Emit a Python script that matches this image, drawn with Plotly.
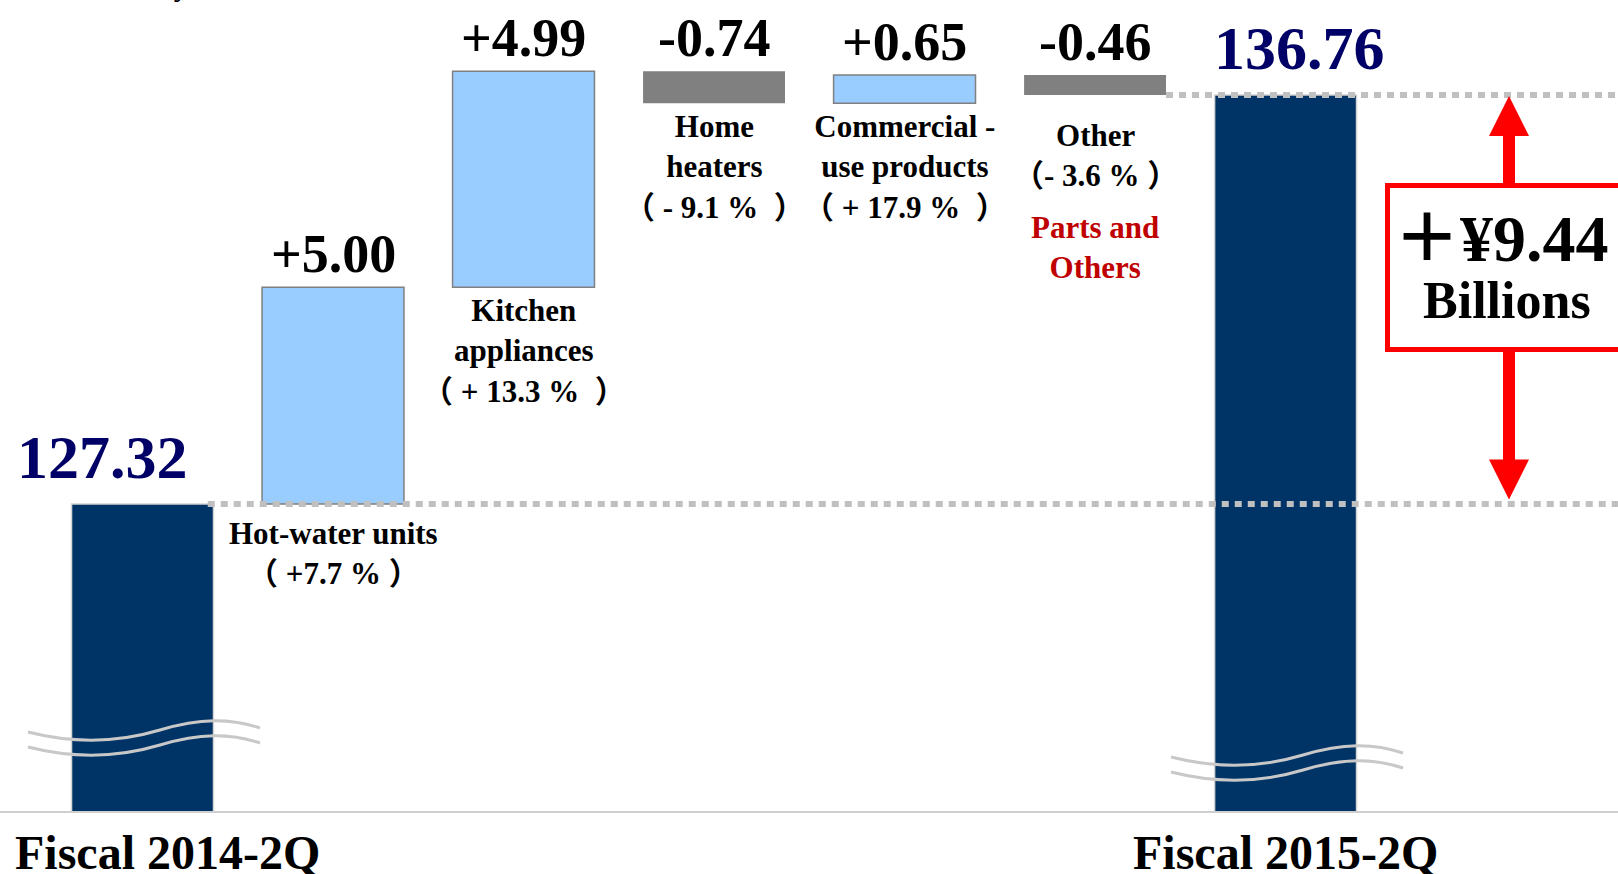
import plotly.graph_objects as go

# ---- data ----
categories = ["Fiscal 2014-2Q", "Hot-water units", "Kitchen appliances", "Home heaters",
              "Commercial-use products", "Other", "Fiscal 2015-2Q"]
measures = ["absolute", "relative", "relative", "relative", "relative", "relative", "absolute"]
values = [127.32, 5.00, 4.99, -0.74, 0.65, -0.46, 136.76]
value_text = ["127.32", "+5.00", "+4.99", "-0.74", "+0.65", "-0.46", "136.76"]
item_names = ["", "Hot-water units", "Kitchen<br>appliances", "Home<br>heaters",
              "Commercial -<br>use products", "Other", ""]
item_changes = ["", "（ +7.7 % ）", "（ + 13.3 %  ）", "（ - 9.1 %  ）",
                "（ + 17.9 %  ）", "（- 3.6 % ）", ""]
period_names = ["Fiscal 2014-2Q", "Fiscal 2015-2Q"]
group_note = "Parts and<br>Others"
total_change = "＋¥9.44"
total_unit = "Billions"
unit_note = "[Billions of yen]"

# ---- layout constants ----
W, H = 1618, 874
PLOT_H = 811
X_RANGE = [-0.748, 7.745]
Y_RANGE = [120.235, 138.952]

NAVY = "#003366"
LIGHT_BLUE = "#99CCFF"
GRAY = "#808080"
DOT_GRAY = "#C0C0C0"
RED = "#FF0000"
FONT = "Liberation Serif, Times New Roman, Noto Sans CJK JP, serif"


def x_px(i):
    return (i - X_RANGE[0]) / (X_RANGE[1] - X_RANGE[0]) * W


def y_px(v):
    return (Y_RANGE[1] - v) / (Y_RANGE[1] - Y_RANGE[0]) * PLOT_H


def xp(px):
    return px / W


def yp(py):
    return 1 - py / PLOT_H


# bottoms / tops of every bar
lows, highs = [], []
run = 0.0
for m, v in zip(measures, values):
    if m == "absolute":
        lo, hi = 0.0, v
        run = v
    else:
        lo, hi = sorted([run, run + v])
        run += v
    lows.append(lo)
    highs.append(hi)

BAR_W = 0.745

fig = go.Figure(go.Waterfall(
    x=list(range(len(categories))),
    y=values,
    measure=measures,
    textinfo="none",
    connector=dict(visible=False),
    increasing=dict(marker=dict(color=LIGHT_BLUE, line=dict(color=GRAY, width=1.5))),
    decreasing=dict(marker=dict(color=GRAY, line=dict(color=GRAY, width=0))),
    totals=dict(marker=dict(color=NAVY, line=dict(color="#D4D4D4", width=1.5))),
    hoverinfo="skip",
))

shapes = []

# dotted reference lines at start and end totals
shapes.append(dict(type="line", xref="x", yref="y", x0=0 + BAR_W / 2 - 0.03, x1=X_RANGE[1] + 0.1,
                   y0=values[0], y1=values[0], line=dict(color=DOT_GRAY, width=6, dash="7px,6px")))
shapes.append(dict(type="line", xref="x", yref="y", x0=5 + BAR_W / 2, x1=X_RANGE[1] + 0.1,
                   y0=values[-1], y1=values[-1], line=dict(color=DOT_GRAY, width=6, dash="7px,6px")))


# axis-break waves across the two total bars
def wave(cx, y0):
    X = lambda d: xp(cx + d)
    Y = lambda d: yp(y0 + d)
    return (f"M {X(-114.5)},{Y(0)} C {X(-67.5)},{Y(12)} {X(-22.5)},{Y(10)} {X(17.5)},{Y(-2)} "
            f"S {X(87.5)},{Y(-14)} {X(117.5)},{Y(-4)}")


for idx, yb in [(0, 732), (6, 757)]:
    for off in (0, 15):
        shapes.append(dict(type="path", xref="paper", yref="paper", path=wave(x_px(idx), yb + off),
                           line=dict(color="#C8C8C8", width=3)))

# red double arrow with the total change box
ax = 1509
top_tip = y_px(values[-1]) + 1
bot_tip = y_px(values[0]) - 4.5
head = 40
shapes.append(dict(type="line", xref="paper", yref="paper", x0=xp(ax), x1=xp(ax),
                   y0=yp(top_tip + head - 2), y1=yp(bot_tip - head + 2), line=dict(color=RED, width=12)))
shapes.append(dict(type="path", xref="paper", yref="paper", fillcolor=RED, line=dict(width=0),
                   path=f"M {xp(ax - 20)},{yp(top_tip + head)} L {xp(ax)},{yp(top_tip)} "
                        f"L {xp(ax + 20)},{yp(top_tip + head)} Z"))
shapes.append(dict(type="path", xref="paper", yref="paper", fillcolor=RED, line=dict(width=0),
                   path=f"M {xp(ax - 20)},{yp(bot_tip - head)} L {xp(ax)},{yp(bot_tip)} "
                        f"L {xp(ax + 20)},{yp(bot_tip - head)} Z"))
shapes.append(dict(type="rect", xref="paper", yref="paper", x0=xp(1387.5), x1=xp(1660),
                   y0=yp(349.5), y1=yp(185.5), fillcolor="white", line=dict(color=RED, width=5)))

annotations = []

# value labels above bars
for i, t in enumerate(value_text):
    is_total = measures[i] == "absolute"
    annotations.append(dict(
        x=i, y=highs[i], xref="x", yref="y", text=t, showarrow=False,
        xanchor="center", yanchor="middle", yshift=47 if is_total else 33,
        xshift=(-40 if i == 0 else 14) if is_total else 0,
        font=dict(family=FONT, size=62 if is_total else 54, weight="bold",
                  color="#000066" if is_total else "black"),
    ))

# category labels under the step bars
for i in range(1, 6):
    annotations.append(dict(
        x=i, y=lows[i], xref="x", yref="y", text=item_names[i] + "<br>" + item_changes[i],
        showarrow=False, xanchor="center", yanchor="top",
        yshift={1: -10, 5: -21}.get(i, -4),
        font=dict(family=FONT, size=31, weight="bold", color="black"),
    ))

annotations.append(dict(
    x=5, y=lows[5], xref="x", yref="y", text=group_note, showarrow=False,
    xanchor="center", yanchor="top", yshift=-113,
    font=dict(family=FONT, size=31, weight="bold", color="#C00000"),
))

# period labels under the totals
for i, name in zip([0, 6], period_names):
    annotations.append(dict(
        x=i, y=yp(852), xref="x", yref="paper", text=name, showarrow=False,
        xanchor="center", yanchor="middle", xshift=25 if i == 0 else 0,
        font=dict(family=FONT, size=48, weight="bold", color="black"),
    ))

# total change text in the red box
annotations.append(dict(x=xp(1501), y=yp(238), xref="paper", yref="paper", text=total_change,
                        xanchor="center", yanchor="middle", showarrow=False,
                        font=dict(family=FONT, size=66, weight="bold", color="black")))
annotations.append(dict(x=xp(1507), y=yp(300), xref="paper", yref="paper", text=total_unit,
                        xanchor="center", yanchor="middle", showarrow=False,
                        font=dict(family=FONT, size=52, weight="bold", color="black")))

# unit note (cut off at the top edge)
annotations.append(dict(x=xp(229), y=yp(-14), xref="paper", yref="paper", text=unit_note,
                        xanchor="right", yanchor="middle", showarrow=False,
                        font=dict(family=FONT, size=29, weight="bold", color="black")))

fig.update_layout(
    width=W, height=H,
    margin=dict(l=0, r=0, t=0, b=H - PLOT_H),
    paper_bgcolor="white", plot_bgcolor="white",
    showlegend=False,
    waterfallgap=1 - BAR_W,
    xaxis=dict(range=X_RANGE, showticklabels=False, showgrid=False, zeroline=False,
               showline=True, linecolor="#CFCFCF", linewidth=2, ticks=""),
    yaxis=dict(range=Y_RANGE, visible=False, showgrid=False, zeroline=False),
    shapes=shapes,
    annotations=annotations,
)

# drop the default page margin so the figure sits at the window corner
fig.write_html("out.html", config={"displayModeBar": False},
               post_script="document.body.style.margin='0px';")
